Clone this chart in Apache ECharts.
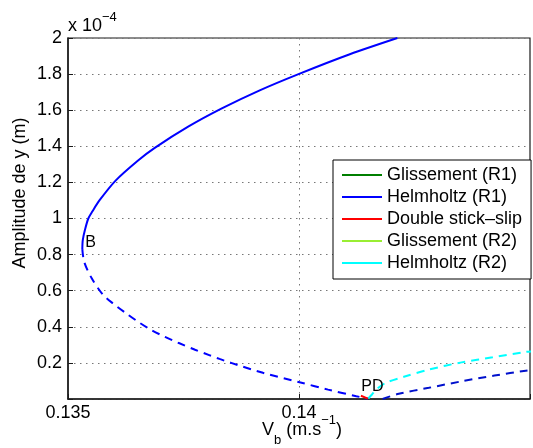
<!DOCTYPE html>
<html>
<head>
<meta charset="utf-8">
<script src="https://cdn.jsdelivr.net/npm/echarts@6/dist/echarts.min.js"></script>
<style>html,body{margin:0;padding:0;background:#fff}#c{width:533px;height:448px}</style>
</head>
<body>
<div id="c"></div>
<script>
// Amplitudes are stored in units of 1e-4 m (axis shows "x 10^-4")
const Y_UNIT_LABEL = 'x 10';
const Y_UNIT_EXP = '\u22124';

const legendNames = ['Glissement (R1)', 'Helmholtz (R1)', 'Double stick\u2013slip', 'Glissement (R2)', 'Helmholtz (R2)'];
const xTickLabels = ['0.135', '0.14'];
const yTickLabels = ['0.2', '0.4', '0.6', '0.8', '1', '1.2', '1.4', '1.6', '1.8', '2'];

// Helmholtz (R1), stable (solid) branch
const helmR1StableX = [0.13531, 0.13532, 0.13537, 0.13544, 0.13553, 0.13568, 0.13603, 0.13651, 0.13687, 0.13761, 0.13833, 0.13915, 0.13999, 0.14110, 0.14213];
const helmR1StableY = [0.83, 0.88, 0.94, 1.00, 1.04, 1.10, 1.21, 1.32, 1.39, 1.51, 1.61, 1.71, 1.80, 1.91, 2.00];

// Helmholtz (R1), unstable (dashed) branch from B down to PD
const helmR1UnstableX = [0.13531, 0.13535, 0.13551, 0.13575, 0.13597, 0.13625, 0.13654, 0.13682, 0.13710, 0.13740, 0.13775, 0.13807, 0.13828, 0.13853, 0.13922, 0.14001, 0.14063, 0.14124, 0.14149];
const helmR1UnstableY = [0.83, 0.76, 0.67, 0.58, 0.53, 0.476, 0.424, 0.38, 0.344, 0.31, 0.273, 0.242, 0.222, 0.20, 0.145, 0.093, 0.052, 0.0155, 0.002];

// Helmholtz (R1), unstable (dashed) branch right of PD
const helmR1RightX = [0.14181, 0.14216, 0.14281, 0.14352, 0.14423, 0.14491, 0.14505];
const helmR1RightY = [0.0, 0.029, 0.062, 0.098, 0.13, 0.157, 0.162];

// Double stick-slip
const doubleSSX = [0.14134, 0.14149];
const doubleSSY = [0.018, 0.002];

// Helmholtz (R2), unstable (dashed)
const helmR2X = [0.14150, 0.14158, 0.14167, 0.14188, 0.14227, 0.14281, 0.14352, 0.14419, 0.14491, 0.14505];
const helmR2Y = [0.003, 0.025, 0.052, 0.09, 0.123, 0.163, 0.203, 0.231, 0.261, 0.264];

// Glissement branches (not visible in this window)
const glissR1X = [];
const glissR1Y = [];
const glissR2X = [];
const glissR2Y = [];

// Point labels
const annotationText = ['B', 'PD'];
const annotationX = [0.13549, 0.14159];
const annotationY = [0.867, 0.071];

const FONT = "'Liberation Sans', Arial, Helvetica, sans-serif";
const pairs = (xs, ys) => xs.map((x, i) => [x, ys[i]]);

const chart = echarts.init(document.getElementById('c'), null, {renderer: 'canvas'});

const lineSeries = (name, xs, ys, color, dashed, z) => ({
  type: 'line', name: name, data: pairs(xs, ys), symbol: 'none', showSymbol: false,
  smooth: 0.3, silent: true, z: z || 2,
  itemStyle: {color: color},
  lineStyle: {color: color, width: 2, type: dashed ? [8, 6] : 'solid'}
});

const option = {
  animation: false,
  backgroundColor: '#fff',
  textStyle: {fontFamily: FONT},
  grid: {left: 68, right: -3, top: 38, bottom: 49, show: true, borderColor: '#1a1a1a', borderWidth: 1.2},
  xAxis: {
    type: 'value', min: 0.135, max: 0.145, interval: 0.005,
    axisLine: {show: true, onZero: false, lineStyle: {color: '#1a1a1a', width: 1.5}},
    axisTick: {show: true, inside: true, length: 5, lineStyle: {color: '#1a1a1a'}},
    axisLabel: {color: '#000', fontSize: 18, fontFamily: FONT, margin: 5,
      formatter: v => { const s = String(+v.toFixed(4)); return xTickLabels.indexOf(s) >= 0 ? s : ''; }},
    splitLine: {show: true, lineStyle: {color: '#777', type: [1.5, 4.5], width: 1}}
  },
  yAxis: {
    type: 'value', min: 0, max: 2, interval: 0.2,
    axisLine: {show: true, onZero: false, lineStyle: {color: '#1a1a1a', width: 1.5}},
    axisTick: {show: true, inside: true, length: 5, lineStyle: {color: '#1a1a1a'}},
    axisLabel: {color: '#000', fontSize: 18, fontFamily: FONT, margin: 6,
      formatter: v => { const s = String(+v.toFixed(1)); return yTickLabels.indexOf(s) >= 0 ? s : ''; }},
    splitLine: {show: true, lineStyle: {color: '#777', type: [1.5, 4.5], width: 1}}
  },
  legend: {
    data: legendNames,
    orient: 'vertical', left: 333, top: 160,
    padding: [6, 9, 7, 8], itemGap: 4, itemWidth: 40, itemHeight: 14,
    backgroundColor: '#fff', borderColor: '#000', borderWidth: 1, borderRadius: 0,
    textStyle: {fontSize: 18, lineHeight: 18, color: '#000', fontFamily: FONT},
    itemStyle: {opacity: 0},
    lineStyle: {type: 'solid', width: 2},
    selectedMode: false
  },
  graphic: [
    {type: 'text', x: 20, y: 193, rotation: Math.PI / 2, silent: true,
      style: {text: 'Amplitude de y (m)', fontSize: 18, fontFamily: FONT, fill: '#000', align: 'center', verticalAlign: 'middle'}},
    {type: 'text', x: 68, y: 11, silent: true,
      style: {text: '{a|' + Y_UNIT_LABEL + '}{s|' + Y_UNIT_EXP + '}', fill: '#000', align: 'left', verticalAlign: 'top',
        rich: {a: {fontSize: 18, lineHeight: 30, fontFamily: FONT, fill: '#000'},
               s: {fontSize: 13, lineHeight: 12, verticalAlign: 'top', fontFamily: FONT, fill: '#000'}}}},
    {type: 'text', x: 302, y: 414, silent: true,
      style: {text: '{a|V}{b|b}{a| (m.s}{s|\u22121}{a|)}', fill: '#000', align: 'center', verticalAlign: 'top',
        rich: {a: {fontSize: 18, lineHeight: 33, fontFamily: FONT, fill: '#000'},
               b: {fontSize: 13, lineHeight: 13, verticalAlign: 'bottom', fontFamily: FONT, fill: '#000'},
               s: {fontSize: 13, lineHeight: 18, verticalAlign: 'top', fontFamily: FONT, fill: '#000'}}}}
  ],
  series: [
    lineSeries(legendNames[0], glissR1X, glissR1Y, '#007f00', false),
    lineSeries(legendNames[1], helmR1StableX, helmR1StableY, '#0000ff', false),
    lineSeries(legendNames[2], doubleSSX, doubleSSY, '#ff0000', false, 4),
    lineSeries(legendNames[3], glissR2X, glissR2Y, '#99ee33', false),
    lineSeries(legendNames[4], helmR2X, helmR2Y, '#00ffff', true),
    lineSeries(legendNames[1], helmR1UnstableX, helmR1UnstableY, '#0000ff', true),
    lineSeries(legendNames[1], helmR1RightX, helmR1RightY, '#0010cc', true),
    {
      type: 'scatter', name: 'labels', silent: true, z: 6,
      data: annotationText.map((t, i) => ({name: t, value: [annotationX[i], annotationY[i]]})),
      symbolSize: 2, itemStyle: {color: 'rgba(0,0,0,0)'},
      label: {show: true, position: 'inside', formatter: '{b}', fontSize: 16, color: '#000', opacity: 1, fontFamily: FONT}
    }
  ]
};
chart.setOption(option);
</script>
</body>
</html>
